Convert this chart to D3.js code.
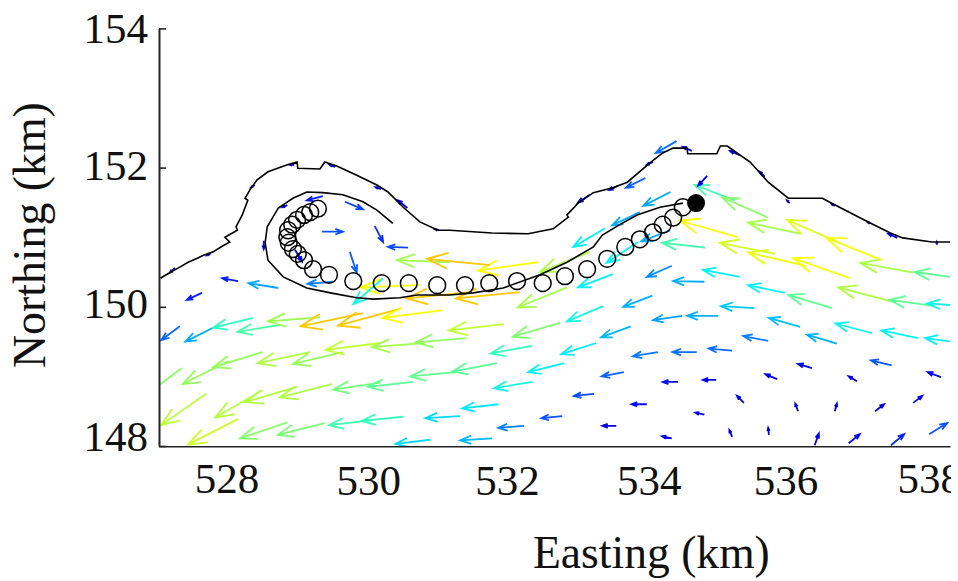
<!DOCTYPE html>
<html>
<head>
<meta charset="utf-8">
<title>Float track and surface currents</title>
<script src="https://cdn.jsdelivr.net/npm/d3@7"></script>
<style>
  body { margin: 0; background: #fff; }
  text { font-family: "Liberation Serif", "Times New Roman", serif; fill: #111; }
</style>
</head>
<body>
<div id="chart"></div>
<script>
/*
  Data, all in km
*/

const xTicks = [528, 530, 532, 534, 536, 538];
const yTicks = [148, 150, 152, 154];

// [easting, northing] of the outer coast line
const coast = [
  [526.86, 150.41], [527.01, 150.50], [527.14, 150.57], [527.26, 150.64], [527.40, 150.70], [527.48, 150.74],
  [527.62, 150.79], [527.75, 150.87], [527.86, 150.93], [527.79, 151.00], [527.97, 151.10], [527.95, 151.15],
  [528.04, 151.32], [528.12, 151.53], [528.08, 151.56], [528.15, 151.68], [528.25, 151.82], [528.41, 151.94],
  [528.69, 152.04], [528.83, 152.08], [528.84, 151.99], [529.16, 151.98], [529.23, 152.08], [529.41, 152.02],
  [529.69, 151.89], [529.98, 151.75], [530.14, 151.65], [530.36, 151.43], [530.60, 151.22], [530.86, 151.10],
  [531.03, 151.10], [531.64, 151.06], [532.16, 151.05], [532.52, 151.12], [532.74, 151.29], [532.72, 151.32],
  [532.88, 151.49], [533.10, 151.64], [533.38, 151.71], [533.59, 151.79], [533.92, 152.07], [534.10, 152.21],
  [534.25, 152.28], [534.45, 152.28], [534.46, 152.20], [534.88, 152.20], [534.93, 152.31], [535.03, 152.31],
  [535.17, 152.21], [535.36, 152.08], [535.62, 151.79], [535.91, 151.56], [536.40, 151.56], [536.55, 151.48],
  [537.04, 151.23], [537.38, 151.06], [537.56, 150.99], [537.98, 150.93], [538.24, 150.93]
];

// [easting, northing] of the inner depth contour
const contour = [
  [530.21, 151.20], [529.98, 151.39], [529.78, 151.51], [529.49, 151.61], [529.20, 151.64], [528.97, 151.65],
  [528.77, 151.56], [528.56, 151.42], [528.40, 151.15], [528.37, 150.92], [528.41, 150.67], [528.63, 150.43],
  [528.97, 150.27], [529.31, 150.20], [529.69, 150.13], [529.93, 150.11], [530.31, 150.13], [530.56, 150.17],
  [531.03, 150.17], [531.37, 150.20], [531.80, 150.27], [532.19, 150.41], [532.33, 150.46], [532.72, 150.64],
  [533.10, 150.86], [533.23, 151.03], [533.48, 151.18], [533.73, 151.32], [534.06, 151.43], [534.39, 151.49]
];

// [easting, northing] of the float positions
const track = [
  [529.13, 151.41], [529.02, 151.36], [528.93, 151.32], [528.83, 151.25], [528.76, 151.18], [528.70, 151.10],
  [528.69, 151.00], [528.71, 150.92], [528.77, 150.83], [528.84, 150.76], [528.93, 150.67], [529.06, 150.54],
  [529.29, 150.46], [529.64, 150.37], [530.05, 150.34], [530.44, 150.34], [530.85, 150.31], [531.25, 150.31],
  [531.60, 150.34], [532.00, 150.37], [532.37, 150.34], [532.69, 150.44], [533.01, 150.54], [533.30, 150.69],
  [533.56, 150.86], [533.77, 150.97], [533.96, 151.07], [534.10, 151.18], [534.25, 151.28], [534.39, 151.43]
];
const trackEnd = [534.58, 151.49];

// [easting, northing, dE, dN] of each current vector
const arrows = [
  [527.14, 149.72, -0.27, -0.20], [527.62, 149.70, -0.40, -0.20], [528.20, 149.84, -0.58, -0.14], [528.59, 149.74, -0.62, -0.10],
  [529.16, 149.85, -0.75, -0.06], [529.78, 149.91, -0.90, -0.19], [530.31, 149.97, -0.89, -0.24], [530.92, 149.95, -0.86, -0.11],
  [527.17, 149.12, -0.58, -0.43], [527.84, 149.22, -0.66, -0.33], [528.33, 149.35, -0.71, -0.22], [529.02, 149.35, -0.76, -0.16],
  [529.49, 149.35, -0.72, -0.17], [530.03, 149.48, -0.79, -0.10], [530.67, 149.48, -0.76, -0.06], [531.27, 149.55, -0.73, -0.06],
  [531.81, 149.75, -0.79, -0.09], [532.62, 149.77, -0.68, -0.20], [533.24, 150.01, -0.52, -0.22], [533.95, 150.16, -0.42, -0.16],
  [534.38, 149.87, -0.42, -0.06], [534.90, 149.87, -0.45, 0.00], [535.42, 149.98, -0.48, 0.03], [536.08, 149.71, -0.45, 0.13],
  [537.12, 149.62, -0.53, 0.14], [537.78, 149.55, -0.53, 0.11], [538.41, 149.48, -0.53, 0.07],
  [527.52, 148.75, -0.65, -0.45], [528.33, 148.80, -0.68, -0.39], [528.83, 148.85, -0.75, -0.22], [529.33, 148.89, -0.75, -0.19],
  [530.03, 148.91, -0.68, -0.10], [530.50, 148.92, -0.65, -0.07], [531.12, 149.06, -0.66, -0.06], [531.71, 149.19, -0.64, -0.12],
  [532.22, 149.44, -0.60, -0.11], [533.14, 149.48, -0.50, -0.16], [533.64, 149.72, -0.43, -0.16], [534.03, 149.35, -0.36, -0.06],
  [534.59, 149.35, -0.35, 0.00], [535.10, 149.37, -0.34, 0.03], [535.62, 149.51, -0.36, 0.07], [536.61, 149.47, -0.43, 0.13],
  [537.40, 149.16, -0.30, 0.07], [536.25, 149.12, -0.20, 0.06], [535.75, 148.96, -0.17, 0.07], [534.87, 148.95, -0.19, 0.00],
  [534.32, 148.92, -0.22, 0.00], [533.54, 149.06, -0.32, -0.06], [532.68, 149.19, -0.52, -0.13], [532.22, 148.92, -0.55, -0.09],
  [531.73, 148.60, -0.52, -0.06], [531.18, 148.43, -0.50, -0.03], [530.75, 148.09, -0.50, -0.06], [531.64, 148.11, -0.46, -0.03],
  [532.10, 148.29, -0.37, -0.03], [532.65, 148.43, -0.30, -0.03], [533.11, 148.75, -0.29, -0.03], [533.87, 148.60, -0.22, 0.00],
  [533.43, 148.29, -0.20, 0.00], [534.23, 148.11, -0.14, 0.03], [534.70, 148.45, -0.13, 0.03], [535.27, 148.62, -0.10, 0.10],
  [536.05, 148.50, -0.04, 0.11], [536.58, 148.50, 0.03, 0.11], [537.16, 148.50, 0.13, 0.10], [537.71, 148.62, 0.13, 0.10],
  [538.11, 148.99, -0.19, 0.07], [536.90, 148.93, -0.12, 0.07], [535.10, 148.13, -0.04, 0.10], [535.63, 148.16, -0.01, 0.10],
  [536.29, 148.01, 0.06, 0.17], [536.78, 148.04, 0.16, 0.13], [537.39, 148.01, 0.19, 0.16], [537.94, 148.17, 0.26, 0.16],
  [527.98, 148.39, -0.72, -0.37], [528.69, 148.34, -0.68, -0.23], [529.23, 148.33, -0.68, -0.17], [529.91, 148.37, -0.62, -0.07],
  [530.36, 148.42, -0.60, -0.06],
  [535.14, 151.53, -0.58, 0.22], [535.62, 151.28, -0.66, 0.29], [536.08, 151.05, -0.75, 0.16], [536.65, 150.92, -0.76, 0.33],
  [537.26, 150.67, -0.80, 0.32], [537.71, 150.49, -0.76, 0.14], [538.38, 150.41, -0.65, 0.09], [535.72, 150.76, -0.80, 0.16],
  [536.15, 150.59, -0.82, 0.19], [536.80, 150.41, -0.82, 0.29], [535.18, 151.00, -0.84, 0.24], [534.71, 150.85, -0.62, 0.07],
  [535.21, 150.43, -0.53, 0.10], [535.86, 150.20, -0.53, 0.11], [536.54, 149.98, -0.63, 0.19], [537.38, 150.08, -0.75, 0.20],
  [538.02, 150.01, -0.65, 0.09], [538.46, 150.01, -0.55, 0.04], [534.23, 150.59, -0.36, -0.16], [534.70, 150.36, -0.45, 0.01],
  [533.38, 150.47, -0.50, -0.19], [532.72, 150.28, -0.71, -0.29], [533.74, 150.93, -0.45, -0.30], [534.21, 151.10, -0.42, -0.16],
  [533.27, 151.13, -0.46, -0.27], [533.77, 151.36, -0.40, -0.19], [534.21, 151.65, -0.39, -0.20], [533.85, 151.85, -0.28, -0.14],
  [534.30, 152.38, -0.30, -0.17], [533.05, 150.79, -0.72, -0.29], [532.30, 150.64, -0.86, -0.12], [531.03, 150.64, -0.76, 0.03],
  [531.61, 150.60, -0.91, 0.09], [530.60, 150.31, -0.86, -0.03], [530.07, 150.41, -0.43, -0.37], [531.32, 150.21, -0.91, -0.09],
  [532.04, 150.21, -0.92, -0.09], [527.46, 150.20, -0.22, -0.10], [528.56, 150.27, -0.43, 0.07], [527.98, 150.37, -0.23, 0.04],
  [529.35, 150.36, -0.37, -0.03], [529.59, 150.79, 0.10, -0.30], [529.95, 151.16, 0.12, -0.23], [530.43, 150.85, -0.29, 0.01],
  [529.52, 151.51, 0.26, -0.11], [529.19, 151.08, 0.30, 0.00], [529.20, 151.59, -0.23, -0.06], [528.69, 151.46, -0.07, -0.03],
  [528.80, 150.82, 0.10, -0.17], [528.35, 150.95, 0.00, -0.12], [527.07, 150.56, -0.07, -0.07], [527.59, 150.77, -0.06, -0.03],
  [528.22, 151.75, -0.05, -0.03], [528.79, 152.04, -0.07, 0.00], [529.38, 152.01, -0.08, 0.03], [530.04, 151.69, -0.08, 0.03],
  [530.42, 151.42, -0.14, 0.11], [530.88, 151.10, -0.06, 0.01], [533.05, 151.61, -0.17, -0.11], [533.46, 151.74, -0.13, -0.06],
  [533.96, 152.08, -0.09, -0.04], [534.52, 152.24, -0.13, 0.06], [535.21, 152.18, -0.14, 0.06], [535.57, 151.87, -0.07, 0.07],
  [535.93, 151.49, -0.04, 0.04], [536.58, 151.45, -0.05, 0.03], [537.09, 151.20, -0.03, 0.01], [537.48, 150.99, -0.13, 0.06],
  [538.05, 150.89, 0.00, 0.04], [534.74, 151.88, -0.13, -0.14]
];

const speedStops = [0, 0.2, 0.3, 0.36, 0.45, 0.53, 0.6, 0.68, 0.76, 0.82, 0.87, 0.91];
const speedColors = ['#0000cc', '#0000e6', '#0a50ff', '#0a78ff', '#00b0ff', '#00f0ff', '#30ffc0', '#70ff80', '#a0ff50', '#d8ff20', '#ffff00', '#ffc800'];

/*
  Setup
*/

const width = 958;
const height = 581;

let svg = d3.select('#chart').append('svg')
  .attr('width', width)
  .attr('height', height)
  .style('display', 'block');

let x = d3.scaleLinear().domain([526.84, 538.24]).range([159, 950]);
let y = d3.scaleLinear().domain([148, 154]).range([446, 28.4]);
let speedColor = d3.scaleLinear().domain(speedStops).range(speedColors).clamp(true);

let lineGen = d3.line()
  .x(function (d) { return x(d[0]); })
  .y(function (d) { return y(d[1]); });

svg.append('clipPath').attr('id', 'plot-clip')
  .append('rect')
  .attr('x', 159).attr('y', 28).attr('width', 791).attr('height', 418);

svg.append('clipPath').attr('id', 'page-clip')
  .append('rect')
  .attr('x', 0).attr('y', 0).attr('width', 951).attr('height', height);

/*
  Worker Functions
*/

// quiver style arrow: shaft plus two barbs, sized in pixels from the scaled ends
function arrowPath(d) {
  let x0 = x(d[0]), y0 = y(d[1]);
  let x1 = x(d[0] + d[2]), y1 = y(d[1] + d[3]);
  let angle = Math.atan2(y0 - y1, x0 - x1);
  let barb = Math.hypot(x1 - x0, y1 - y0) * 0.34 + 1;
  let spread = 0.36;
  let ax = x1 + barb * Math.cos(angle + spread), ay = y1 + barb * Math.sin(angle + spread);
  let bx = x1 + barb * Math.cos(angle - spread), by = y1 + barb * Math.sin(angle - spread);
  return 'M' + x0 + ',' + y0 + 'L' + x1 + ',' + y1 + 'M' + ax + ',' + ay + 'L' + x1 + ',' + y1 + 'L' + bx + ',' + by;
}

/*
  Marks
*/

let plot = svg.append('g').attr('clip-path', 'url(#plot-clip)');

plot.selectAll('.arrow')
  .data(arrows)
  .enter()
  .append('path')
  .attr('class', 'arrow')
  .attr('fill', 'none')
  .attr('stroke', function (d) { return speedColor(Math.hypot(d[2], d[3])); })
  .attr('stroke-width', 1.8)
  .attr('d', arrowPath);

plot.selectAll('.shore')
  .data([coast, contour])
  .enter()
  .append('path')
  .attr('class', 'shore')
  .attr('fill', 'none')
  .attr('stroke', '#000')
  .attr('stroke-width', 1.6)
  .attr('d', lineGen);

plot.selectAll('.float')
  .data(track)
  .enter()
  .append('circle')
  .attr('class', 'float')
  .attr('cx', function (d) { return x(d[0]); })
  .attr('cy', function (d) { return y(d[1]); })
  .attr('r', 8.4)
  .attr('fill', 'none')
  .attr('stroke', '#000')
  .attr('stroke-width', 1.5);

plot.append('circle')
  .attr('cx', x(trackEnd[0]))
  .attr('cy', y(trackEnd[1]))
  .attr('r', 9)
  .attr('fill', '#000');

/*
  Axes, the labels were placed by hand in the original so each gets its own nudge
*/

const xLabelShift = [-13, -10, -10, -7, -9, -4];
const xLabelDrop = [47, 49, 49, 49, 49, 47];
const yLabelDrop = [4, 11, 12, 14];

let xAxis = svg.append('g')
  .attr('transform', 'translate(0,446)')
  .attr('clip-path', 'url(#page-clip)')
  .call(d3.axisBottom(x).tickValues(xTicks).tickFormat(d3.format('d')).tickSize(-8).tickSizeOuter(0));

xAxis.selectAll('text')
  .attr('font-size', 43)
  .attr('font-family', null)
  .attr('dy', 0)
  .attr('dx', function (d, i) { return xLabelShift[i]; })
  .attr('y', function (d, i) { return xLabelDrop[i]; });

let yAxis = svg.append('g')
  .attr('transform', 'translate(159,0)')
  .call(d3.axisLeft(y).tickValues(yTicks).tickFormat(d3.format('d')).tickSize(-7).tickSizeOuter(0));

yAxis.selectAll('text')
  .attr('font-size', 43)
  .attr('x', -11)
  .attr('dy', 0)
  .attr('y', function (d, i) { return yLabelDrop[i]; });

svg.selectAll('.domain, .tick line')
  .attr('stroke', '#222');
svg.selectAll('.domain')
  .attr('stroke-width', 2);
svg.selectAll('.tick line')
  .attr('stroke-width', 1.6);

svg.append('text')
  .attr('x', 533)
  .attr('y', 568)
  .attr('font-size', 45.6)
  .text('Easting (km)');

svg.append('text')
  .attr('transform', 'translate(45,368) rotate(-90)')
  .attr('font-size', 45.8)
  .text('Northing (km)');
</script>
</body>
</html>
